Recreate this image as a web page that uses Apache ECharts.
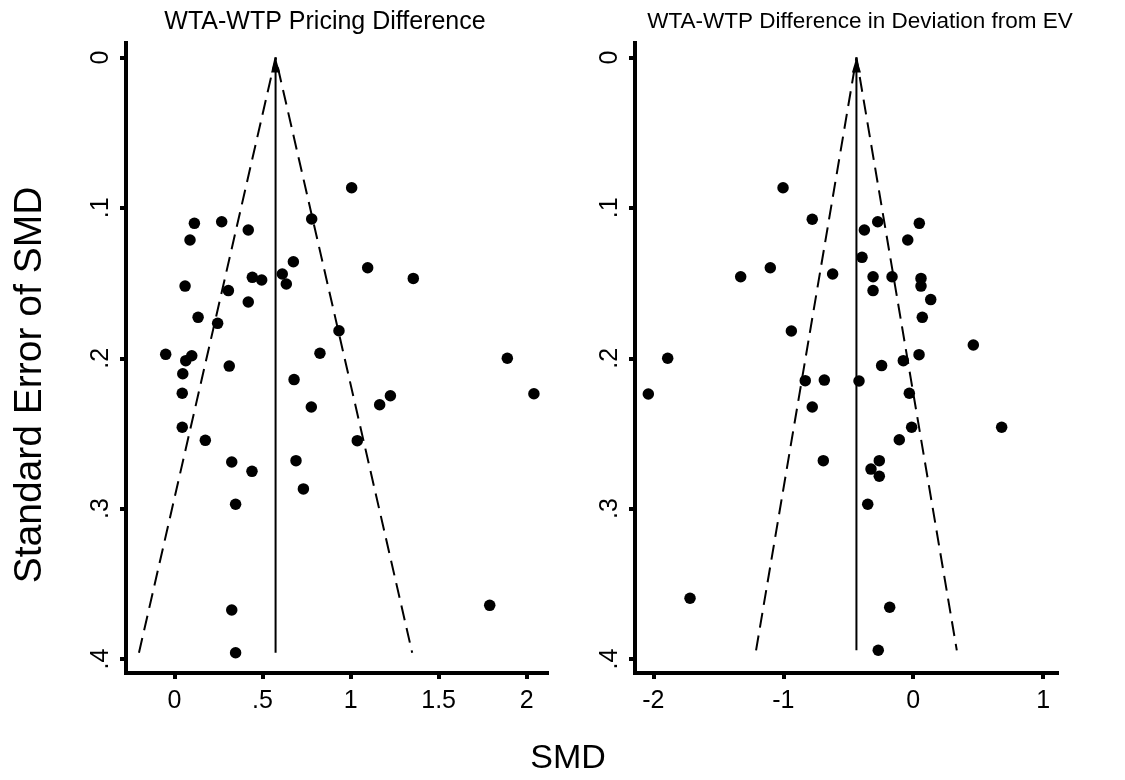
<!DOCTYPE html>
<html>
<head>
<meta charset="utf-8">
<title>Funnel plots: WTA-WTP</title>
<script src="https://cdn.jsdelivr.net/npm/echarts@6/dist/echarts.min.js"></script>
<style>
  html, body { margin: 0; padding: 0; background: #fff; }
  #chart { width: 1125px; height: 780px; }
</style>
</head>
<body>
<div id="chart"></div>
<script>
// Panel titles
const panelTitles = ['WTA-WTP Pricing Difference', 'WTA-WTP Difference in Deviation from EV'];

// Left panel: standardized mean differences and their standard errors
const leftSMD = [1.006, 0.113, 0.268, 0.419, 0.088, 0.779, 0.675, 1.097, 1.356, 0.612,
  0.442, 0.495, 0.635, 0.060, 0.306, 0.419, 0.134, 0.245, 0.934, -0.050,
  0.098, 0.064, 0.826, 1.890, 0.311, 0.047, 0.679, 0.044, 2.041, 1.226,
  1.165, 0.777, 0.044, 0.175, 1.038, 0.325, 0.690, 0.440, 0.732, 0.347,
  0.325, 1.790, 0.347];
const leftSE = [0.0866, 0.1103, 0.1092, 0.1147, 0.1214, 0.1074, 0.1358, 0.1398, 0.1469, 0.1440,
  0.1462, 0.1480, 0.1506, 0.1520, 0.1550, 0.1626, 0.1728, 0.1768, 0.1817, 0.1974,
  0.1983, 0.2016, 0.1967, 0.2000, 0.2052, 0.2103, 0.2142, 0.2233, 0.2236, 0.2249,
  0.2309, 0.2324, 0.2459, 0.2546, 0.2548, 0.2690, 0.2681, 0.2752, 0.2869, 0.2971,
  0.3674, 0.3643, 0.3958];
const leftPooled = 0.574;
const leftSEMax = 0.3958;

// Right panel
const rightSMD = [-1.002, -0.777, -0.376, -0.273, 0.047, -0.042, -0.394, -1.100, -1.328, -0.620,
  -0.309, -0.163, 0.060, 0.060, -0.309, 0.135, 0.070, -0.938, 0.463, -1.890,
  0.045, -0.076, -0.243, -0.831, -0.684, -0.417, -2.039, -0.030, -0.777, -0.012,
  0.681, -0.107, -0.692, -0.261, -0.325, -0.261, -0.350, -1.718, -0.181, -0.269];
const rightSE = [0.0866, 0.1076, 0.1147, 0.1092, 0.1103, 0.1214, 0.1329, 0.1398, 0.1458, 0.1440,
  0.1458, 0.1458, 0.1469, 0.1520, 0.1550, 0.1610, 0.1728, 0.1819, 0.1912, 0.2000,
  0.1976, 0.2016, 0.2049, 0.2149, 0.2145, 0.2151, 0.2238, 0.2233, 0.2324, 0.2459,
  0.2459, 0.2542, 0.2681, 0.2681, 0.2737, 0.2785, 0.2971, 0.3596, 0.3656, 0.3942];
const rightPooled = -0.437;
const rightSEMax = 0.3942;

// Pseudo 95% confidence multiplier
const z95 = 1.96;

// Tick values and labels
const yTickValues = [0, 0.1, 0.2, 0.3, 0.4];
const yTickLabels = ['0', '.1', '.2', '.3', '.4'];
const leftXTickValues = [0, 0.5, 1, 1.5, 2];
const leftXTickLabels = ['0', '.5', '1', '1.5', '2'];
const rightXTickValues = [-2, -1, 0, 1];
const rightXTickLabels = ['-2', '-1', '0', '1'];

const FONT = '"Liberation Sans", Arial, Helvetica, sans-serif';

function labelFor(values, labels) {
  return function (v) {
    for (let i = 0; i < values.length; i++) {
      if (Math.abs(values[i] - v) < 1e-9) return labels[i];
    }
    return '';
  };
}

function axisLine() {
  return { show: true, onZero: false, lineStyle: { color: '#000', width: 4, cap: 'square' } };
}

function xAxis(gridIndex, min, max, values, labels) {
  return {
    type: 'value', gridIndex, min, max, position: 'bottom',
    axisLine: axisLine(),
    axisTick: { show: true, length: 6, inside: false, customValues: values,
      lineStyle: { color: '#000', width: 4 } },
    axisLabel: { show: true, customValues: values, formatter: labelFor(values, labels),
      margin: 16, color: '#000', fontSize: 25, fontFamily: FONT },
    splitLine: { show: false }
  };
}

function yAxis(gridIndex) {
  return {
    type: 'value', gridIndex, inverse: true, min: -0.00964, max: 0.4093, position: 'left',
    axisLine: axisLine(),
    axisTick: { show: true, length: 6, inside: false, customValues: yTickValues,
      lineStyle: { color: '#000', width: 4 } },
    axisLabel: { show: true, rotate: 90, customValues: yTickValues,
      formatter: labelFor(yTickValues, yTickLabels),
      margin: 12, color: '#000', fontSize: 25, fontFamily: FONT },
    splitLine: { show: false }
  };
}

function points(xs, ys) {
  return xs.map((x, i) => [x, ys[i]]);
}

function panelSeries(idx, xs, ys, pooled, seMax) {
  const half = z95 * seMax;
  return [
    {
      type: 'scatter', xAxisIndex: idx, yAxisIndex: idx,
      data: points(xs, ys), symbol: 'circle', symbolSize: 11.5,
      itemStyle: { color: '#000', opacity: 1 }, silent: true, z: 3
    },
    {
      // pseudo 95% confidence limits
      type: 'line', xAxisIndex: idx, yAxisIndex: idx,
      data: [[pooled - half, seMax], [pooled, 0], [pooled + half, seMax]],
      showSymbol: false, symbol: 'none', silent: true, clip: false,
      lineStyle: { color: '#000', width: 2, type: [15, 8] }, z: 2
    },
    {
      // pooled estimate with arrowhead at the top
      type: 'line', xAxisIndex: idx, yAxisIndex: idx,
      data: [
        { value: [pooled, seMax], symbol: 'none' },
        { value: [pooled, 0], symbol: 'triangle', symbolSize: [9, 15], symbolOffset: [0, '50%'] }
      ],
      showSymbol: true, silent: true, clip: false,
      itemStyle: { color: '#000', opacity: 1 },
      lineStyle: { color: '#000', width: 2 }, z: 2
    }
  ];
}

const chart = echarts.init(document.getElementById('chart'), null, { renderer: 'canvas' });

chart.setOption({
  backgroundColor: '#fff',
  animation: false,
  grid: [
    { left: 126, top: 43, width: 421, height: 630, containLabel: false, outerBoundsMode: 'none' },
    { left: 635, top: 43, width: 422, height: 630, containLabel: false, outerBoundsMode: 'none' }
  ],
  xAxis: [
    xAxis(0, -0.2754, 2.1153, leftXTickValues, leftXTickLabels),
    xAxis(1, -2.1416, 1.107, rightXTickValues, rightXTickLabels)
  ],
  yAxis: [yAxis(0), yAxis(1)],
  series: [
    ...panelSeries(0, leftSMD, leftSE, leftPooled, leftSEMax),
    ...panelSeries(1, rightSMD, rightSE, rightPooled, rightSEMax)
  ],
  graphic: [
    { type: 'text', x: 325, y: 22, silent: true,
      style: { text: panelTitles[0], fontSize: 25, fontFamily: FONT, fill: '#000',
        align: 'center', verticalAlign: 'middle' } },
    { type: 'text', x: 860, y: 22, silent: true,
      style: { text: panelTitles[1], fontSize: 22.5, fontFamily: FONT, fill: '#000',
        align: 'center', verticalAlign: 'middle' } },
    { type: 'text', x: 568, y: 759, silent: true,
      style: { text: 'SMD', fontSize: 34, fontFamily: FONT, fill: '#000',
        align: 'center', verticalAlign: 'middle' } },
    { type: 'text', x: 30, y: 385, rotation: Math.PI / 2, silent: true,
      style: { text: 'Standard Error of SMD', fontSize: 39, fontFamily: FONT, fill: '#000',
        align: 'center', verticalAlign: 'middle' } }
  ]
});
</script>
</body>
</html>
